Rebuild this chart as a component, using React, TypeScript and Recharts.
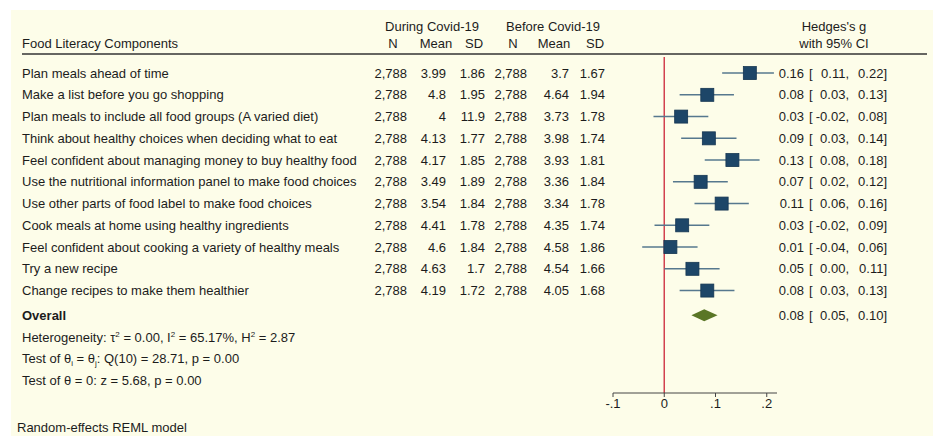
import React from "react";
import { ScatterChart, Scatter, XAxis, YAxis, ErrorBar, ReferenceLine } from "recharts";

// food literacy items (rows, top to bottom)
const components = [
  "Plan meals ahead of time",
  "Make a list before you go shopping",
  "Plan meals to include all food groups (A varied diet)",
  "Think about healthy choices when deciding what to eat",
  "Feel confident about managing money to buy healthy food",
  "Use the nutritional information panel to make food choices",
  "Use other parts of food label to make food choices",
  "Cook meals at home using healthy ingredients",
  "Feel confident about cooking a variety of healthy meals",
  "Try a new recipe",
  "Change recipes to make them healthier",
];

const nDuring = [2788, 2788, 2788, 2788, 2788, 2788, 2788, 2788, 2788, 2788, 2788];
const meanDuring = [3.99, 4.8, 4, 4.13, 4.17, 3.49, 3.54, 4.41, 4.6, 4.63, 4.19];
const sdDuring = [1.86, 1.95, 11.9, 1.77, 1.85, 1.89, 1.84, 1.78, 1.84, 1.7, 1.72];
const nBefore = [2788, 2788, 2788, 2788, 2788, 2788, 2788, 2788, 2788, 2788, 2788];
const meanBefore = [3.7, 4.64, 3.73, 3.98, 3.93, 3.36, 3.34, 4.35, 4.58, 4.54, 4.05];
const sdBefore = [1.67, 1.94, 1.78, 1.74, 1.81, 1.84, 1.78, 1.74, 1.86, 1.66, 1.68];

// plotted effect sizes
const gEst = [0.167, 0.084, 0.033, 0.087, 0.133, 0.071, 0.112, 0.035, 0.012, 0.055, 0.084];
const gLo = [0.113, 0.03, -0.021, 0.033, 0.079, 0.017, 0.059, -0.019, -0.043, 0.0, 0.03];
const gHi = [0.214, 0.136, 0.086, 0.141, 0.186, 0.124, 0.165, 0.088, 0.065, 0.108, 0.137];

// printed values in the CI column
const gText = ["0.16", "0.08", "0.03", "0.09", "0.13", "0.07", "0.11", "0.03", "0.01", "0.05", "0.08"];
const loText = ["0.11", "0.03", "-0.02", "0.03", "0.08", "0.02", "0.06", "-0.02", "-0.04", "0.00", "0.03"];
const hiText = ["0.22", "0.13", "0.08", "0.14", "0.18", "0.12", "0.16", "0.09", "0.06", "0.11", "0.13"];

const overallEst = 0.078;
const overallLo = 0.053;
const overallHi = 0.104;
const overallText = ["0.08", "0.05", "0.10"];

const xTicks = [-0.1, 0, 0.1, 0.2];
const xTickLabels = ["-.1", "0", ".1", ".2"];

// layout
const W = 933;
const H = 436;
const PLOT_LEFT = 613;
const PLOT_RIGHT = 777;
const X_DOMAIN: [number, number] = [-0.1, 0.22];
const Y_DOMAIN: [number, number] = [-0.74, 14.71];
const OVERALL_ROW = 11.13;
const PX_PER_UNIT = (PLOT_RIGHT - PLOT_LEFT) / (X_DOMAIN[1] - X_DOMAIN[0]);

const FONT = '"Liberation Sans", Arial, Helvetica, sans-serif';
const INK = "#1c1c1c";
const BG = "#fdfde9";
const COLS = { label: 22, n1: 407, m1: 446, sd1: 485, n2: 527, m2: 569, sd2: 605, est: 804, open: 809, lo: 849, hi: 887 };

const fmtN = (n: number) => n.toLocaleString("en-US");

const rows = components.map((name, i) => ({
  row: i,
  name,
  n1: nDuring[i],
  m1: meanDuring[i],
  sd1: sdDuring[i],
  n2: nBefore[i],
  m2: meanBefore[i],
  sd2: sdBefore[i],
  est: gEst[i],
  err: [gEst[i] - gLo[i], gHi[i] - gEst[i]],
  ci: [gText[i], loText[i], hiText[i]],
}));

const overall = [
  { row: OVERALL_ROW, est: overallEst, lo: overallLo, hi: overallHi, ci: overallText },
];

function CiText({ y, ci }: { y: number; ci: string[] }) {
  return (
    <>
      <text x={COLS.est} y={y} textAnchor="end">{ci[0]}</text>
      <text x={COLS.open} y={y}>[</text>
      <text x={COLS.lo} y={y} textAnchor="end">{ci[1] + ","}</text>
      <text x={COLS.hi} y={y} textAnchor="end">{ci[2] + "]"}</text>
    </>
  );
}

function RowText(props: any) {
  const { cy, payload } = props;
  const y = cy + 4.5;
  return (
    <g fontFamily={FONT} fontSize={13} fill={INK}>
      <text x={COLS.label} y={y}>{payload.name}</text>
      <text x={COLS.n1} y={y} textAnchor="end">{fmtN(payload.n1)}</text>
      <text x={COLS.m1} y={y} textAnchor="end">{String(payload.m1)}</text>
      <text x={COLS.sd1} y={y} textAnchor="end">{String(payload.sd1)}</text>
      <text x={COLS.n2} y={y} textAnchor="end">{fmtN(payload.n2)}</text>
      <text x={COLS.m2} y={y} textAnchor="end">{String(payload.m2)}</text>
      <text x={COLS.sd2} y={y} textAnchor="end">{String(payload.sd2)}</text>
      <CiText y={y} ci={payload.ci} />
    </g>
  );
}

function Box(props: any) {
  const { cx, cy } = props;
  const s = 13;
  return <rect x={cx - s / 2} y={cy - s / 2} width={s} height={s} fill="#1d4668" stroke="#153652" strokeWidth={0.8} />;
}

function Diamond(props: any) {
  const { cx, cy, payload } = props;
  const left = cx - (payload.est - payload.lo) * PX_PER_UNIT;
  const right = cx + (payload.hi - payload.est) * PX_PER_UNIT;
  const h = 6;
  const y = cy + 4.5;
  return (
    <g>
      <polygon points={`${left},${cy} ${cx},${cy - h} ${right},${cy} ${cx},${cy + h}`} fill="#5a7626" />
      <g fontFamily={FONT} fontSize={13} fill={INK}>
        <text x={COLS.label} y={y} fontWeight="bold">Overall</text>
        <CiText y={y} ci={payload.ci} />
      </g>
    </g>
  );
}

function StaticText() {
  const t = { fontFamily: FONT, fontSize: 13, fill: INK };
  return (
    <svg width={W} height={H} style={{ position: "absolute", left: 0, top: 0 }}>
      <g {...t}>
        <text x={432} y={31} textAnchor="middle">During Covid-19</text>
        <text x={553} y={31} textAnchor="middle">Before Covid-19</text>
        <text x={834} y={31} textAnchor="middle">Hedges's g</text>
        <text x={22} y={48}>Food Literacy Components</text>
        <text x={393} y={48} textAnchor="middle">N</text>
        <text x={436} y={48} textAnchor="middle">Mean</text>
        <text x={474} y={48} textAnchor="middle">SD</text>
        <text x={513} y={48} textAnchor="middle">N</text>
        <text x={554} y={48} textAnchor="middle">Mean</text>
        <text x={595} y={48} textAnchor="middle">SD</text>
        <text x={834} y={48} textAnchor="middle">with 95% CI</text>
        <text x={22} y={341.5}>
          Heterogeneity: τ<tspan fontSize={8} dy={-5}>2</tspan>
          <tspan dy={5}> = 0.00, I</tspan>
          <tspan fontSize={8} dy={-5}>2</tspan>
          <tspan dy={5}> = 65.17%, H</tspan>
          <tspan fontSize={8} dy={-5}>2</tspan>
          <tspan dy={5}> = 2.87</tspan>
        </text>
        <text x={22} y={362.5}>
          Test of θ<tspan fontSize={8} dy={3}>i</tspan>
          <tspan dy={-3}> = θ</tspan>
          <tspan fontSize={8} dy={3}>j</tspan>
          <tspan dy={-3}>: Q(10) = 28.71, p = 0.00</tspan>
        </text>
        <text x={22} y={384.5}>Test of θ = 0: z = 5.68, p = 0.00</text>
        <text x={17} y={431.5}>Random-effects REML model</text>
      </g>
      <line x1={22} x2={927} y1={54} y2={54} stroke="#333" strokeWidth={1.5} />
    </svg>
  );
}

export default function App() {
  return (
    <div style={{ position: "fixed", left: 0, top: 0, width: W, height: H, background: "#fff" }}>
      <div style={{ position: "absolute", left: 11, top: 10, right: 0, bottom: 0, background: BG }} />
      <StaticText />
      <div style={{ position: "absolute", left: 0, top: 0 }}>
        <ScatterChart
          width={W}
          height={H}
          margin={{ top: 57, left: PLOT_LEFT, right: W - PLOT_RIGHT, bottom: 13 }}
        >
          <XAxis
            type="number"
            dataKey="est"
            domain={X_DOMAIN}
            ticks={xTicks}
            tickFormatter={(v: number) => xTickLabels[xTicks.indexOf(v)] ?? String(v)}
            height={30}
            tickSize={4}
            tickMargin={2}
            stroke="#444"
            tick={{ fill: INK, fontSize: 13, fontFamily: FONT }}
          />
          <YAxis type="number" dataKey="row" domain={Y_DOMAIN} reversed hide />
          <ReferenceLine x={0} stroke="#d2424f" strokeWidth={1.5} />
          <Scatter data={rows} shape={RowText} isAnimationActive={false}>
            <ErrorBar dataKey="err" direction="x" width={0} stroke="#56788e" strokeWidth={1.5} />
          </Scatter>
          <Scatter data={rows} shape={Box} isAnimationActive={false} />
          <Scatter data={overall} shape={Diamond} isAnimationActive={false} />
        </ScatterChart>
      </div>
    </div>
  );
}
